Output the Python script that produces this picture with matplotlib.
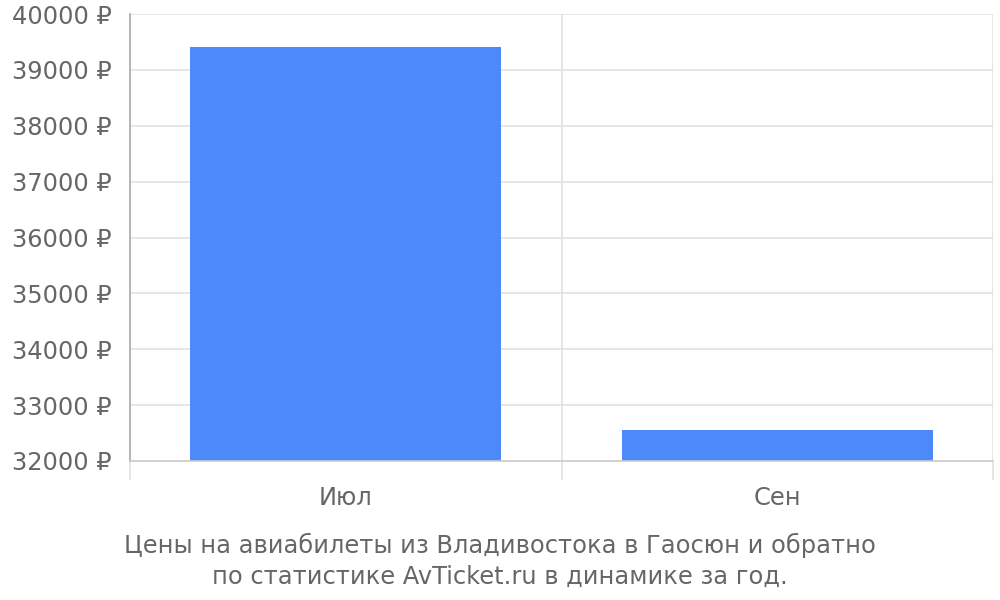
import matplotlib
matplotlib.use("Agg")
import matplotlib.pyplot as plt
from matplotlib.ticker import FuncFormatter, FixedLocator

months = ["Июл", "Сен"]
prices = [39410, 32560]
y_ticks = list(range(32000, 40001, 1000))
caption = "Цены на авиабилеты из Владивостока в Гаосюн и обратно\nпо статистике AvTicket.ru в динамике за год."

text_color = "#666666"
bar_color = "#4d89f9"
grid_color = "#e2e2e2"

plt.rcParams['font.family'] = ['DejaVu Sans']

fig = plt.figure(figsize=(10, 6), dpi=100)
ax = fig.add_axes([0.13, 1 - 461 / 600, 0.863, 447 / 600])

x = list(range(len(months)))
ax.bar(x, prices, width=0.72, color=bar_color, zorder=3)

ax.set_xlim(-0.5, len(months) - 0.5)
ax.set_ylim(y_ticks[0], y_ticks[-1])
ax.set_yticks(y_ticks)
ax.yaxis.set_major_formatter(FuncFormatter(lambda v, p: f"{int(v)} ₽"))
ax.set_xticks(x)
ax.set_xticklabels(months)
ax.xaxis.set_minor_locator(FixedLocator([i - 0.5 for i in range(len(months) + 1)]))

ax.grid(axis="y", color=grid_color, linewidth=1.2, zorder=0)
ax.grid(axis="x", which="minor", color=grid_color, linewidth=1.2, zorder=0)

ax.tick_params(axis="y", length=0, pad=13, labelsize=17.4, labelcolor=text_color)
ax.tick_params(axis="x", which="major", length=0, pad=18, labelsize=17.4, labelcolor=text_color)
ax.tick_params(axis="x", which="minor", length=13.7, width=1.2, color=grid_color, direction="out")

for side in ["top", "right"]:
    ax.spines[side].set_visible(False)
ax.spines["left"].set_color("#aaaaaa")
ax.spines["left"].set_linewidth(1.2)
ax.spines["bottom"].set_color("#cccccc")
ax.spines["bottom"].set_linewidth(1.2)
ax.spines["bottom"].set_zorder(4)

fig.text(0.5, 1 - 561 / 600, caption, ha="center", va="center",
         fontsize=17.4, color=text_color, linespacing=1.4)

fig.savefig("out.png", dpi=100)
